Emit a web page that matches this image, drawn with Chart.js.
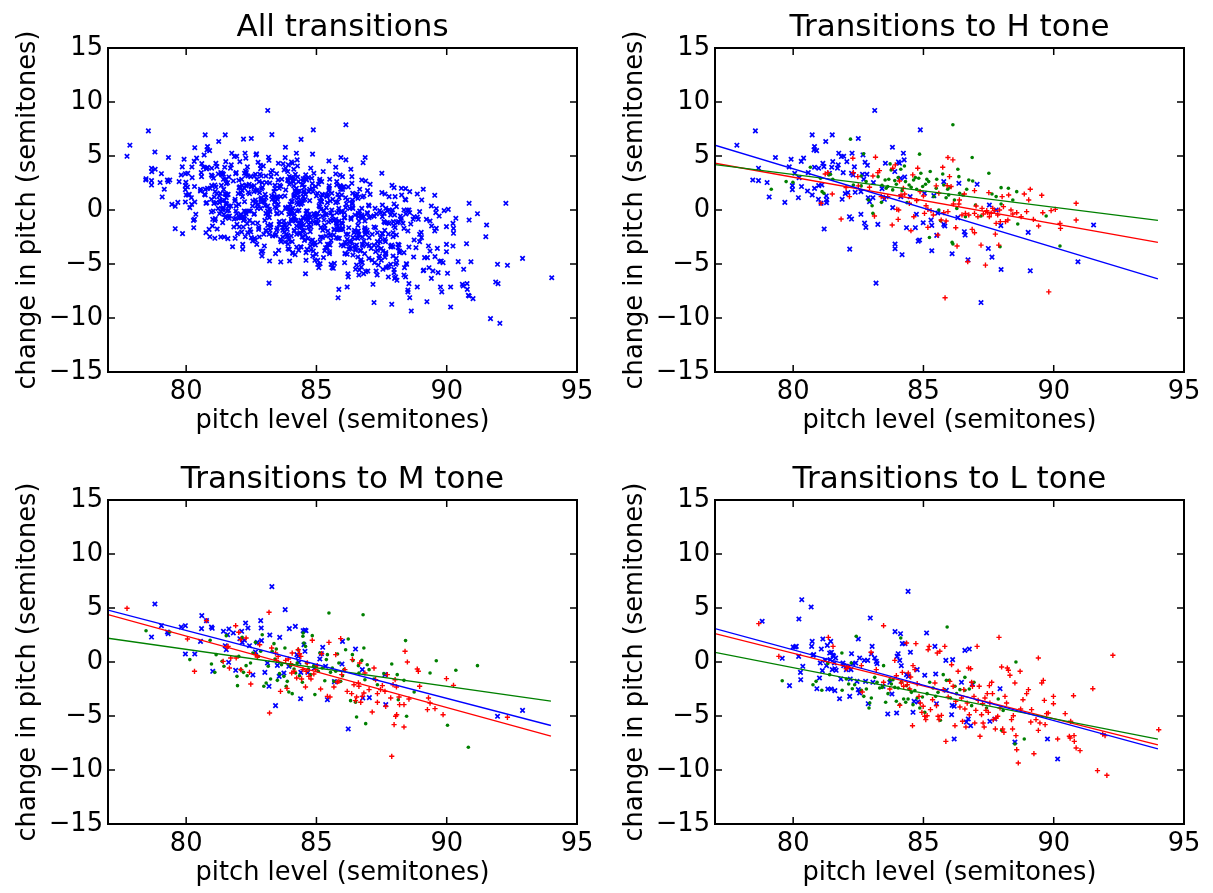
<!DOCTYPE html>
<html>
<head>
<meta charset="utf-8">
<title>Pitch transitions</title>
<script src="https://cdn.jsdelivr.net/npm/chart.js@4.4.0/dist/chart.umd.min.js"></script>
<style>
html, body { margin: 0; padding: 0; background: #fff; overflow: hidden; }
#fig { position: relative; width: 1213px; height: 893px; overflow: hidden; background: #fff; }
#fig canvas { position: absolute; }
</style>
</head>
<body>
<div id="fig">
  <canvas id="c_all" width="606" height="446" style="left:0px;top:0px"></canvas>
  <canvas id="c_h" width="606" height="446" style="left:607px;top:0px"></canvas>
  <canvas id="c_m" width="606" height="446" style="left:0px;top:452px"></canvas>
  <canvas id="c_l" width="606" height="446" style="left:607px;top:452px"></canvas>
</div>
<script>
// axis ticks
var xTicks = [80, 85, 90, 95];
var yTicks = [-15, -10, -5, 0, 5, 10, 15];

// transitions to H, split by preceding tone: [pitch level, change in pitch]
var toH_L = [[77.84,6.0],[78.55,7.33],[78.67,3.87],[78.45,2.78],[78.67,2.72],[79.0,2.54],[79.08,1.21],[79.32,4.86],[79.68,0.71],[79.85,3.99],[79.92,4.7],[79.97,2.26],[79.97,1.89],[80.06,3.4],[80.2,1.14],[80.23,3.0],[80.31,4.5],[80.4,4.8],[80.32,2.17],[80.55,1.76],[80.58,3.46],[80.73,6.96],[80.82,5.88],[80.8,5.57],[80.9,5.5],[80.73,1.39],[80.82,2.0],[80.82,3.96],[80.98,3.87],[80.97,0.99],[81.07,0.62],[81.14,4.33],[81.18,4.02],[80.98,2.26],[81.1,2.32],[81.25,6.34],[81.19,-1.76],[81.27,1.3],[81.29,0.93],[81.28,0.68],[81.39,3.4],[81.5,6.96],[81.52,4.48],[81.48,3.96],[81.7,3.87],[81.75,5.26],[81.85,4.95],[81.94,4.98],[81.73,4.18],[81.92,3.46],[82.06,4.48],[81.88,0.99],[82.0,1.52],[82.1,1.61],[82.17,-3.62],[82.16,-0.62],[82.24,-0.84],[82.26,5.26],[82.24,3.4],[82.3,3.25],[82.35,3.99],[82.38,1.64],[82.5,6.62],[82.6,-0.4],[82.6,1.7],[82.66,3.31],[82.68,5.1],[82.71,2.85],[82.74,-1.21],[82.79,-1.61],[82.76,4.42],[82.85,4.14],[82.83,3.31],[82.88,1.14],[82.93,0.77],[83.06,1.14],[83.13,9.22],[83.18,-6.77],[83.25,-1.33],[83.08,2.54],[83.41,1.98],[83.5,0.99],[83.54,4.33],[83.81,5.81],[83.82,0.22],[83.91,-3.15],[83.91,-3.59],[83.9,3.56],[84.04,4.45],[84.08,4.33],[84.12,2.94],[84.18,-4.14],[84.23,5.26],[84.26,4.64],[84.13,1.24],[84.28,3.06],[84.35,-1.64],[84.49,1.24],[84.69,-1.64],[84.73,-0.4],[84.8,-2.88],[84.85,-2.78],[84.88,7.42],[85.04,1.55],[84.99,-1.18],[85.29,-0.93],[85.32,-1.42],[85.32,-3.77],[85.4,1.33],[85.51,-2.35],[85.55,-0.28],[85.78,2.63],[85.78,-1.33],[85.82,-1.48],[86.1,-4.05],[86.36,2.47],[86.32,-0.71],[86.57,-2.01],[86.6,-2.32],[86.71,-4.61],[87.06,2.38],[87.21,-8.57],[87.49,-3.56],[87.53,0.46],[87.63,-4.36],[87.79,0.0],[87.97,-1.45],[87.98,-5.51],[89.02,-2.07],[89.1,-5.63],[90.93,-4.79],[91.53,-1.39]];
var toH_M = [[79.16,1.92],[79.73,2.63],[79.99,2.57],[80.66,3.96],[81.05,2.94],[81.11,1.7],[81.18,1.55],[81.37,3.25],[81.43,3.31],[81.52,2.85],[82.2,6.56],[82.31,2.32],[82.61,2.23],[82.7,5.2],[82.61,3.15],[82.8,2.63],[82.89,0.93],[83.03,0.4],[83.06,-0.31],[83.26,3.09],[83.41,2.29],[83.39,0.71],[83.53,2.78],[83.57,2.01],[83.63,2.17],[83.67,2.85],[83.72,4.27],[83.76,3.71],[83.82,1.86],[83.9,2.72],[83.96,2.38],[84.03,3.0],[84.13,3.77],[84.18,1.79],[84.27,4.08],[84.31,2.63],[84.37,0.68],[84.45,2.32],[84.53,2.1],[84.62,2.78],[84.69,3.0],[84.74,1.92],[84.82,2.94],[84.85,5.17],[84.9,3.4],[84.97,2.17],[85.08,2.38],[85.13,2.85],[85.2,2.63],[85.26,3.56],[85.23,-2.54],[85.4,1.24],[85.49,2.01],[85.51,2.85],[85.59,0.0],[85.66,-0.99],[85.74,3.34],[85.78,2.32],[85.87,1.14],[85.93,1.92],[85.97,1.39],[86.02,2.1],[86.1,-3.0],[86.13,-3.15],[86.13,7.89],[86.19,0.93],[86.28,0.15],[86.32,3.77],[86.36,3.09],[86.39,1.55],[86.51,1.39],[86.61,-0.62],[86.66,1.92],[86.74,2.78],[86.87,4.86],[86.89,2.69],[87.0,0.46],[87.21,-0.56],[87.51,3.4],[87.63,1.48],[87.79,1.24],[87.94,-3.4],[87.98,0.56],[87.98,2.07],[88.26,2.01],[88.58,1.7],[88.43,0.93],[88.62,-1.3],[89.71,-0.56],[90.24,-3.34]];
var toH_H = [[81.07,0.62],[81.23,3.34],[81.33,3.46],[81.5,1.48],[81.84,-0.84],[82.03,2.07],[82.16,1.24],[82.29,4.79],[82.31,3.46],[82.48,3.09],[82.5,2.23],[82.93,2.1],[83.06,3.15],[83.12,-0.56],[83.16,4.89],[83.25,3.46],[83.31,3.65],[83.38,1.24],[83.5,1.18],[83.63,1.24],[83.8,-1.39],[83.82,3.87],[83.92,4.18],[83.98,0.06],[84.03,-0.87],[84.05,0.0],[84.08,2.69],[84.14,1.39],[84.23,2.01],[84.28,1.48],[84.46,0.62],[84.52,-1.92],[84.59,3.25],[84.63,-0.62],[84.74,0.87],[84.78,3.87],[84.87,1.7],[85.0,1.3],[85.04,-0.31],[85.1,0.4],[85.17,0.06],[85.17,-1.61],[85.29,-0.06],[85.38,-0.46],[85.49,2.23],[85.55,-2.32],[85.59,1.55],[85.68,-0.93],[85.74,3.96],[85.78,-0.25],[85.83,-8.13],[85.87,-1.02],[85.91,2.26],[85.94,4.86],[85.94,-0.15],[86.0,3.09],[86.06,2.17],[86.13,4.64],[86.15,0.56],[86.24,-1.64],[86.29,-3.34],[86.36,0.56],[86.38,0.93],[86.48,-0.46],[86.57,1.48],[86.61,-0.31],[86.7,-4.79],[86.74,-0.46],[86.87,-1.79],[86.96,1.79],[86.96,-2.1],[86.96,-0.31],[87.02,0.37],[87.09,-0.62],[87.21,-3.25],[87.25,0.15],[87.3,-0.37],[87.38,-5.1],[87.43,-0.06],[87.46,-0.25],[87.51,1.61],[87.53,-0.62],[87.6,-0.31],[87.66,0.15],[87.72,-0.06],[87.76,-2.23],[87.79,-1.24],[87.85,-0.46],[87.89,-3.25],[87.92,0.0],[87.95,-1.08],[88.02,1.24],[88.07,0.31],[88.15,-1.08],[88.24,-0.93],[88.27,1.39],[88.36,0.0],[88.43,-0.37],[88.58,-0.25],[88.75,-0.62],[88.87,1.48],[88.96,-0.15],[89.04,0.93],[89.1,1.92],[89.22,-0.87],[89.42,-1.48],[89.54,1.36],[89.58,-0.25],[89.81,-7.58],[89.9,-0.06],[90.06,0.06],[90.24,-1.24],[90.26,-1.7],[90.86,0.62],[90.86,-0.93]];

// transitions to M
var toM_L = [[78.8,5.37],[78.67,2.31],[79.05,3.36],[79.28,2.78],[79.31,2.62],[79.81,3.24],[79.97,3.36],[79.97,0.74],[80.33,0.74],[80.55,1.91],[80.59,3.09],[80.6,4.29],[80.78,3.83],[80.97,3.24],[81.0,3.12],[81.02,-0.86],[81.43,2.84],[81.5,1.51],[81.54,1.14],[81.59,2.53],[81.63,-0.03],[81.64,3.06],[81.81,2.69],[81.9,-0.77],[82.06,2.16],[82.13,2.84],[82.15,1.82],[82.24,2.01],[82.28,3.61],[82.37,3.15],[82.43,1.51],[82.56,-1.2],[82.66,0.93],[82.73,1.82],[82.86,3.83],[82.88,3.15],[82.89,1.98],[83.02,-0.96],[83.12,-0.09],[83.18,-2.25],[83.21,2.5],[83.29,6.98],[83.43,-4.04],[83.5,-0.31],[83.57,-1.33],[83.59,2.28],[83.75,-1.02],[83.8,4.85],[83.94,-0.4],[83.96,3.09],[84.19,3.3],[84.25,0.68],[84.3,0.52],[84.33,-0.03],[84.39,-3.4],[84.4,-0.96],[84.49,2.9],[84.52,1.6],[84.56,0.99],[84.56,2.96],[84.6,2.9],[84.67,-0.96],[84.92,-0.56],[85.13,0.28],[85.19,0.77],[85.24,1.36],[85.35,-0.4],[85.42,-3.49],[85.69,-1.82],[85.98,-0.19],[86.0,1.91],[86.22,-6.2],[86.5,1.2],[86.76,-0.71],[86.78,-3.33],[87.03,-3.3],[87.63,-1.17],[87.66,-3.95],[91.95,-5.03],[92.91,-4.48]];
var toM_M = [[78.46,2.9],[79.37,2.78],[80.14,0.22],[80.92,2.01],[80.97,-0.19],[81.1,-0.96],[81.15,0.68],[81.38,0.06],[81.45,-0.4],[81.54,2.44],[81.95,-1.33],[81.97,-2.19],[82.02,0.52],[82.1,-0.71],[82.15,2.28],[82.2,-0.96],[82.3,-0.34],[82.34,-1.27],[82.47,-0.09],[82.56,0.83],[82.66,1.82],[82.77,0.52],[82.86,0.99],[82.92,2.53],[82.98,-2.25],[83.07,-1.94],[83.15,-0.4],[83.24,-1.57],[83.3,0.99],[83.37,1.7],[83.41,0.28],[83.46,1.2],[83.5,-1.7],[83.58,-1.08],[83.66,-0.25],[83.75,-1.33],[83.79,1.3],[83.84,-2.25],[83.88,-1.79],[83.94,-2.78],[84.01,-0.34],[84.07,-2.93],[84.14,-0.65],[84.2,-1.02],[84.26,-0.09],[84.3,1.14],[84.35,-1.27],[84.46,-1.88],[84.48,2.38],[84.49,2.69],[84.52,1.76],[84.58,1.45],[84.62,-0.09],[84.69,-0.65],[84.78,-1.17],[84.84,2.44],[84.9,-0.34],[84.94,-3.02],[84.99,-0.4],[85.07,-0.86],[85.13,0.83],[85.22,-0.56],[85.32,-1.73],[85.38,0.22],[85.42,0.68],[85.48,4.54],[85.54,-0.96],[85.61,-0.56],[85.67,-1.79],[85.74,-0.86],[85.81,0.74],[85.86,-0.09],[85.93,-1.79],[86.0,-1.27],[86.06,-0.71],[86.12,1.14],[86.22,2.13],[86.31,-3.58],[86.38,0.68],[86.4,0.15],[86.5,-3.73],[86.54,-5.09],[86.61,-0.34],[86.63,-1.02],[86.74,0.15],[86.79,4.38],[86.82,1.3],[86.86,-1.64],[86.89,-5.71],[86.95,-0.25],[87.02,-0.71],[87.21,-1.57],[87.34,-2.1],[87.59,-1.08],[87.89,-0.19],[88.1,-1.17],[88.14,-3.49],[88.36,-1.7],[88.42,1.98],[88.46,-5.03],[88.75,-2.78],[89.36,-1.02],[89.6,0.12],[90.03,-5.86],[90.35,-0.77],[90.83,-7.9],[91.18,-0.34]];
var toM_H = [[77.73,4.97],[80.05,2.13],[80.32,-0.86],[80.78,3.83],[81.42,0.06],[81.57,1.39],[81.61,1.45],[81.66,-0.56],[81.71,0.37],[81.9,3.36],[81.92,0.37],[82.02,2.75],[82.09,2.07],[82.1,-0.71],[82.3,2.22],[82.43,-0.96],[82.48,-2.04],[82.66,0.68],[82.73,0.46],[82.82,1.6],[83.18,4.6],[83.2,-4.72],[83.28,1.3],[83.43,0.83],[83.47,0.15],[83.53,0.52],[83.62,-2.72],[83.82,0.15],[83.87,-2.44],[83.92,0.28],[84.01,-0.15],[84.05,-1.02],[84.07,0.83],[84.14,-0.86],[84.24,-1.48],[84.3,1.14],[84.35,0.77],[84.4,0.52],[84.43,-1.57],[84.48,-0.71],[84.58,-2.31],[84.61,-0.86],[84.65,-0.09],[84.71,-1.33],[84.79,-1.57],[84.84,2.01],[84.9,-1.11],[84.97,-0.71],[85.03,-0.34],[85.16,-2.5],[85.2,0.77],[85.42,-3.18],[85.48,1.82],[85.52,-3.24],[85.67,-2.31],[85.74,0.68],[85.8,-1.85],[85.86,-1.79],[85.93,2.16],[85.97,-1.17],[86.09,-0.71],[86.18,-2.72],[86.35,-2.93],[86.38,0.22],[86.44,-2.1],[86.5,-3.58],[86.54,-3.24],[86.61,-1.94],[86.63,-2.25],[86.66,-0.09],[86.7,-3.73],[86.76,-3.18],[86.82,-2.87],[86.86,-1.02],[87.02,-2.56],[87.14,-4.63],[87.21,-0.56],[87.27,-1.64],[87.34,-3.73],[87.34,-2.93],[87.46,-2.56],[87.53,-2.19],[87.63,-2.72],[87.66,-4.1],[87.72,-1.17],[87.85,-3.33],[87.89,-8.73],[87.94,-2.1],[87.98,-5.8],[88.02,-1.64],[88.04,-5.03],[88.07,-2.31],[88.08,-4.88],[88.17,-3.24],[88.19,-3.95],[88.36,-3.95],[88.36,-6.02],[88.4,0.99],[88.49,0.0],[88.55,-3.43],[88.87,-0.65],[88.91,-0.86],[88.96,-2.25],[89.26,-4.41],[89.3,-3.33],[89.36,-3.8],[89.55,-4.32],[89.86,-4.88],[89.99,-1.54],[90.26,-2.16],[92.33,-5.12]];

// transitions to L
var toL_L = [[78.81,3.77],[79.58,0.34],[79.86,-2.19],[80.0,1.39],[80.08,1.39],[80.12,1.45],[80.21,0.52],[80.22,3.98],[80.28,-0.96],[80.29,-1.64],[80.33,5.77],[80.37,-0.4],[80.69,5.09],[80.71,1.45],[80.73,1.91],[80.76,0.62],[80.79,0.68],[80.91,-2.47],[81.01,-1.48],[81.04,-0.09],[81.08,1.2],[81.12,-0.8],[81.14,2.13],[81.23,0.15],[81.28,-0.34],[81.31,1.54],[81.33,-2.5],[81.4,0.83],[81.42,0.22],[81.44,1.91],[81.46,-2.5],[81.47,0.9],[81.5,-0.71],[81.53,0.62],[81.55,0.52],[81.58,-0.09],[81.6,-2.65],[81.6,-0.62],[81.63,0.37],[81.65,-0.77],[81.78,-3.4],[81.83,-1.57],[81.91,-0.09],[81.94,-0.34],[82.04,-0.71],[82.1,-0.49],[82.17,-3.18],[82.19,-1.57],[82.22,-0.71],[82.24,0.77],[82.29,-0.15],[82.4,-0.09],[82.45,-1.79],[82.5,2.13],[82.5,-2.56],[82.55,-2.87],[82.55,0.37],[82.73,0.15],[82.78,-1.79],[82.86,0.15],[82.88,-3.86],[82.96,4.07],[83.0,0.74],[83.03,1.45],[83.06,-1.88],[83.13,0.37],[83.19,0.06],[83.22,-0.15],[83.45,-2.25],[83.63,-4.81],[83.71,-1.88],[83.79,-2.96],[83.91,2.81],[83.97,-4.72],[83.99,0.52],[84.03,0.77],[84.09,0.15],[84.12,2.62],[84.15,-0.34],[84.19,1.7],[84.29,1.7],[84.35,-1.17],[84.41,6.54],[84.42,-1.33],[84.5,0.9],[84.6,-4.66],[84.64,-3.64],[84.76,-0.71],[84.79,-3.7],[85.05,-1.23],[85.12,2.69],[85.44,1.45],[85.47,-1.11],[85.5,-3.86],[85.86,0.15],[85.88,-2.62],[86.08,-4.88],[86.1,-4.01],[86.12,0.22],[86.18,-7.13],[86.18,-4.1],[86.46,-1.88],[86.59,1.08],[86.65,-5.56],[86.72,-5.28],[86.76,1.2],[86.81,-5.9],[86.88,-2.04],[87.55,-5.49],[87.74,-5.28],[87.94,-2.47],[88.51,-7.41],[89.76,-7.13],[90.15,-8.98]];
var toL_M = [[79.58,-1.73],[80.76,-2.1],[80.88,-1.79],[81.1,-2.62],[81.33,-0.15],[81.4,-1.17],[81.87,0.83],[81.88,-2.62],[82.04,-1.57],[82.13,-2.04],[82.23,-0.09],[82.27,-2.47],[82.36,-2.1],[82.42,2.38],[82.62,-2.62],[82.71,-3.18],[82.81,-2.5],[82.91,-4.26],[82.94,-3.8],[83.0,-3.33],[83.13,-1.42],[83.22,-1.88],[83.32,-2.41],[83.42,-2.35],[83.47,-0.34],[83.55,-3.73],[83.64,-2.93],[83.71,-1.64],[83.77,-2.04],[83.83,-1.64],[83.9,-2.35],[83.96,-3.64],[84.03,-2.41],[84.09,-3.95],[84.13,2.22],[84.15,-1.88],[84.24,-3.43],[84.32,-3.73],[84.35,-2.19],[84.41,-3.43],[84.45,-2.5],[84.54,-2.81],[84.6,-3.95],[84.67,-2.65],[84.76,-3.33],[84.86,-4.26],[84.96,-3.24],[85.05,-4.66],[85.14,-2.93],[85.24,-1.88],[85.37,-2.41],[85.47,-3.18],[85.56,-2.81],[85.65,-5.4],[85.76,-1.17],[85.82,-2.62],[85.88,-1.7],[85.91,3.24],[85.99,-1.7],[86.04,-3.33],[86.21,-2.25],[86.27,-2.93],[86.4,-2.56],[86.59,-1.42],[86.59,-2.62],[86.76,-2.5],[86.85,-4.04],[86.94,-1.88],[87.42,-4.26],[87.87,-3.43],[88.06,-4.48],[88.0,-6.33],[88.55,0.0],[88.51,-7.59],[88.87,-7.13]];
var toL_H = [[78.68,3.55],[79.45,0.52],[81.35,2.28],[81.53,1.45],[82.04,-0.62],[82.1,-0.4],[82.62,-0.34],[82.65,-2.78],[82.99,0.9],[83.19,-0.71],[83.47,3.36],[83.47,-1.88],[83.71,-2.5],[83.9,0.15],[83.96,-1.27],[84.09,-4.01],[84.15,-1.94],[84.19,-0.96],[84.24,-2.25],[84.35,1.76],[84.38,-2.1],[84.42,-1.02],[84.47,-2.5],[84.51,-1.39],[84.58,-5.9],[84.6,-0.34],[84.67,-0.71],[84.71,1.7],[84.76,-2.0],[84.83,-3.18],[84.88,-3.8],[84.94,-4.66],[84.99,-4.1],[85.05,-5.03],[85.09,-5.34],[85.14,-4.97],[85.18,1.14],[85.22,1.45],[85.27,-4.41],[85.35,-3.49],[85.44,-1.94],[85.5,-4.04],[85.53,0.83],[85.56,-5.03],[85.6,-5.34],[85.63,0.99],[85.69,-4.94],[85.76,-2.56],[85.82,1.45],[85.86,-7.35],[85.95,-3.24],[86.01,-1.79],[86.08,-0.25],[86.14,-2.25],[86.21,-5.9],[86.24,-3.64],[86.33,-0.86],[86.4,-4.17],[86.46,-3.33],[86.5,-5.49],[86.55,-2.56],[86.59,-4.35],[86.63,-6.02],[86.68,-3.8],[86.73,-0.56],[86.76,-4.88],[86.81,-0.62],[86.85,-1.88],[86.88,-2.25],[86.94,-3.18],[86.97,-5.65],[87.01,-4.48],[87.06,1.45],[87.1,-3.55],[87.14,-2.25],[87.17,-6.88],[87.23,-4.88],[87.27,-3.86],[87.29,-5.65],[87.33,-6.02],[87.36,-3.33],[87.4,-4.48],[87.45,-2.93],[87.49,-4.66],[87.53,-2.19],[87.55,-3.8],[87.62,-1.88],[87.65,-2.93],[87.68,-5.34],[87.76,-6.2],[87.79,-5.19],[87.85,-5.03],[87.9,2.28],[87.94,-4.26],[88.0,-0.46],[88.04,-6.2],[88.09,-6.51],[88.13,-3.18],[88.19,-3.8],[88.22,-0.56],[88.26,-0.77],[88.32,-1.23],[88.38,-5.34],[88.42,-6.2],[88.45,-4.97],[88.51,-1.94],[88.55,-6.82],[88.58,-8.12],[88.64,-9.35],[88.71,-0.86],[88.73,-4.35],[88.82,-3.49],[88.96,-2.93],[89.03,-2.56],[89.12,-5.56],[89.15,-4.41],[89.24,-8.49],[89.32,-5.34],[89.41,0.37],[89.41,-6.33],[89.47,-5.65],[89.54,-1.94],[89.6,-1.7],[89.64,-3.55],[89.67,-5.8],[89.73,-4.78],[89.79,-4.72],[89.99,-3.18],[89.99,-3.86],[90.15,-7.13],[90.44,-4.78],[90.65,-5.49],[90.6,-6.88],[90.63,-7.04],[90.78,-6.82],[90.79,-7.35],[90.76,-3.12],[90.86,-7.96],[91.01,-8.21],[91.5,-2.47],[91.68,-10.06],[91.88,-6.67],[91.97,-6.82],[92.04,-10.49],[92.27,0.62],[94.03,-6.27]];

// least-squares lines, end points at 77 and 94
var fitH_L = [[77, 6.0], [94, -6.37]];
var fitH_M = [[77, 4.2], [94, -0.96]];
var fitH_H = [[77, 4.33], [94, -3.0]];
var fitM_L = [[77, 4.8], [94, -5.88]];
var fitM_M = [[77, 2.2], [94, -3.62]];
var fitM_H = [[77, 4.39], [94, -6.87]];
var fitL_L = [[77, 3.09], [94, -8.04]];
var fitL_M = [[77, 0.9], [94, -7.15]];
var fitL_H = [[77, 2.63], [94, -7.67]];

var FONT = 'DejaVu Sans';
var BLUE = '#0000ff', GREEN = '#008000', RED = '#ff0000';

Chart.defaults.color = '#000';
Chart.defaults.font.family = FONT;

function pts(arr) {
    return arr.map(function (p) { return { x: p[0], y: p[1] }; });
}

function tickText(v) {
    return v < 0 ? '\u2212' + Math.abs(v) : '' + v;
}

function markX(arr) {
    return { data: pts(arr), pointStyle: 'crossRot', pointRadius: 3.1, borderColor: BLUE, backgroundColor: BLUE, borderWidth: 1.7, order: 3 };
}
function markDot(arr) {
    return { data: pts(arr), pointStyle: 'circle', pointRadius: 1.8, borderColor: GREEN, backgroundColor: GREEN, borderWidth: 0, order: 2 };
}
function markPlus(arr) {
    return { data: pts(arr), pointStyle: 'cross', pointRadius: 2.6, borderColor: RED, backgroundColor: RED, borderWidth: 1.4, order: 1 };
}
function fitLine(arr, color) {
    return { data: pts(arr), showLine: true, pointRadius: 0, borderColor: color, borderWidth: 1.3, fill: false, order: 0 };
}

// black frame with inward ticks on all four sides
var frameTicks = {
    id: 'frameTicks',
    afterDatasetsDraw: function (chart) {
        var a = chart.chartArea, ctx = chart.ctx;
        var xs = chart.scales.x, ys = chart.scales.y;
        ctx.save();
        ctx.strokeStyle = '#000';
        ctx.lineWidth = 1.5;
        ctx.beginPath();
        xTicks.forEach(function (v) {
            var px = xs.getPixelForValue(v);
            ctx.moveTo(px, a.bottom); ctx.lineTo(px, a.bottom - 7);
            ctx.moveTo(px, a.top); ctx.lineTo(px, a.top + 7);
        });
        yTicks.forEach(function (v) {
            var py = ys.getPixelForValue(v);
            ctx.moveTo(a.left, py); ctx.lineTo(a.left + 7, py);
            ctx.moveTo(a.right, py); ctx.lineTo(a.right - 7, py);
        });
        ctx.stroke();
        ctx.lineWidth = 2;
        ctx.strokeRect(a.left, a.top, a.right - a.left, a.bottom - a.top);
        ctx.restore();
    }
};

function panel(id, title, datasets) {
    var tickFont = { family: FONT, size: 25.7 };
    return new Chart(document.getElementById(id).getContext('2d'), {
        type: 'scatter',
        data: { datasets: datasets },
        options: {
            responsive: false,
            animation: false,
            devicePixelRatio: 1,
            events: [],
            layout: { padding: { top: 0, right: 29, bottom: 0, left: 0 } },
            plugins: {
                legend: { display: false },
                tooltip: { enabled: false },
                title: {
                    display: true,
                    fullSize: false,
                    text: title,
                    color: '#000',
                    font: { family: FONT, size: 31, weight: 'normal', lineHeight: 1 },
                    padding: { top: 12, bottom: 5 }
                }
            },
            scales: {
                x: {
                    type: 'linear',
                    min: 77,
                    max: 95,
                    afterBuildTicks: function (s) { s.ticks = xTicks.map(function (v) { return { value: v }; }); },
                    afterFit: function (s) { s.height = 74; },
                    grid: { display: false, drawTicks: false },
                    border: { display: false },
                    ticks: { font: tickFont, color: '#000', padding: 5, maxRotation: 0, autoSkip: false, callback: tickText },
                    title: { display: true, text: 'pitch level (semitones)', color: '#000', font: tickFont, padding: { top: 0, bottom: 9.6 } }
                },
                y: {
                    type: 'linear',
                    min: -15,
                    max: 15,
                    afterBuildTicks: function (s) { s.ticks = yTicks.map(function (v) { return { value: v }; }); },
                    afterFit: function (s) { s.width = 108; },
                    grid: { display: false, drawTicks: false },
                    border: { display: false },
                    ticks: { font: tickFont, color: '#000', padding: 5, autoSkip: false, callback: tickText },
                    title: { display: true, text: 'change in pitch (semitones)', color: '#000', font: tickFont, padding: { top: 13, bottom: 0 } }
                }
            }
        },
        plugins: [frameTicks]
    });
}

var allPoints = [].concat(toH_L, toH_M, toH_H, toM_L, toM_M, toM_H, toL_L, toL_M, toL_H);

panel('c_all', 'All transitions', [markX(allPoints)]);

panel('c_h', 'Transitions to H tone', [
    markX(toH_L), markDot(toH_M), markPlus(toH_H),
    fitLine(fitH_L, BLUE), fitLine(fitH_M, GREEN), fitLine(fitH_H, RED)
]);

panel('c_m', 'Transitions to M tone', [
    markX(toM_L), markDot(toM_M), markPlus(toM_H),
    fitLine(fitM_L, BLUE), fitLine(fitM_M, GREEN), fitLine(fitM_H, RED)
]);

panel('c_l', 'Transitions to L tone', [
    markX(toL_L), markDot(toL_M), markPlus(toL_H),
    fitLine(fitL_L, BLUE), fitLine(fitL_M, GREEN), fitLine(fitL_H, RED)
]);
</script>
</body>
</html>
